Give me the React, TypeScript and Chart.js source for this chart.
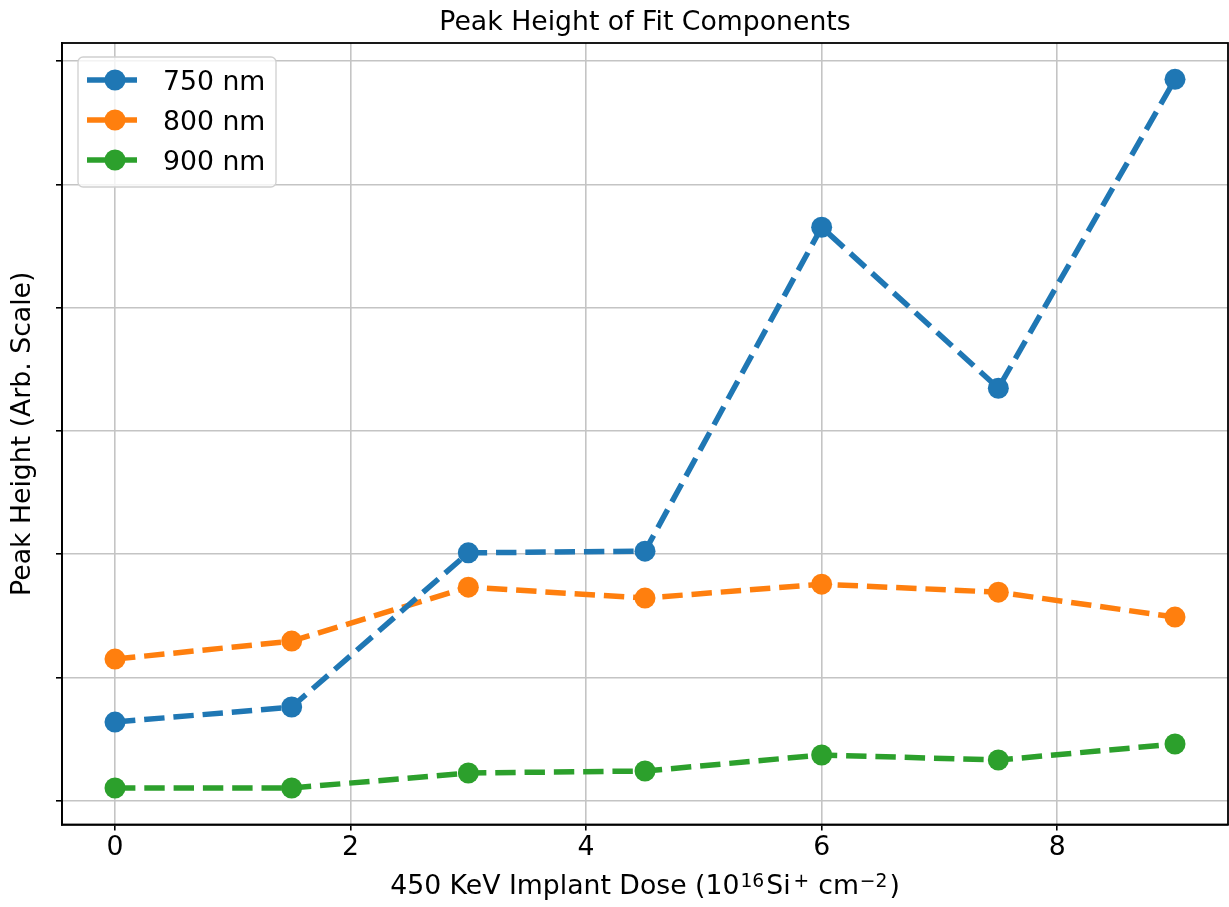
import React, { useEffect, useRef } from 'react';
import { Chart, registerables } from 'chart.js';

Chart.register(...registerables);

// ---- data (y in arbitrary units: one unit per unlabeled y tick) ----
const doses = [0, 1.5, 3, 4.5, 6, 7.5, 9];
const peak750 = [0.638, 0.76, 2.011, 2.025, 4.653, 3.347, 5.853];
const peak800 = [1.149, 1.295, 1.733, 1.644, 1.757, 1.692, 1.49];
const peak900 = [0.103, 0.103, 0.225, 0.241, 0.371, 0.33, 0.46];
const seriesLabels = ['750 nm', '800 nm', '900 nm'];
const seriesColors = ['#1f77b4', '#ff7f0e', '#2ca02c'];
const xTickValues = [0, 2, 4, 6, 8];
const yTickValues = [0, 1, 2, 3, 4, 5, 6];
const chartTitle = 'Peak Height of Fit Components';
const yAxisTitle = 'Peak Height (Arb. Scale)';
const xAxisTitleParts = [
  { text: '450 KeV Implant Dose (10', sup: false, gap: 1 },
  { text: '16', sup: true, gap: 2 },
  { text: 'Si', sup: false, gap: 3 },
  { text: '+', sup: true, gap: 9 },
  { text: 'cm', sup: false, gap: 1 },
  { text: '\u22122', sup: true, gap: 2 },
  { text: ')', sup: false, gap: 0 },
];

const FONT = "'DejaVu Sans'";
const FS = 26.7;
const SUP_FS = 18.7;

const overlayPlugin = {
  id: 'overlay',
  afterDraw(chart: any) {
    const { ctx, chartArea: a } = chart;
    ctx.save();
    // full frame (top / right spines)
    ctx.strokeStyle = '#000';
    ctx.lineWidth = 1.8;
    ctx.strokeRect(a.left, a.top, a.right - a.left, a.bottom - a.top);

    // title
    ctx.fillStyle = '#000';
    ctx.font = `${FS}px ${FONT}`;
    ctx.textAlign = 'center';
    ctx.textBaseline = 'alphabetic';
    ctx.fillText(chartTitle, (a.left + a.right) / 2, 30);

    // x axis title with superscripts
    const widths = xAxisTitleParts.map((p) => {
      ctx.font = `${p.sup ? SUP_FS : FS}px ${FONT}`;
      return ctx.measureText(p.text).width;
    });
    let total = 0;
    xAxisTitleParts.forEach((p, i) => {
      total += widths[i] + p.gap;
    });
    let x = (a.left + a.right) / 2 - total / 2;
    const base = 894;
    ctx.textAlign = 'left';
    xAxisTitleParts.forEach((p, i) => {
      ctx.font = `${p.sup ? SUP_FS : FS}px ${FONT}`;
      ctx.fillText(p.text, x, p.sup ? base - 7 : base);
      x += widths[i] + p.gap;
    });

    // legend
    const lx = 78, ly = 57, lw = 198, lh = 130, r = 5;
    ctx.beginPath();
    ctx.moveTo(lx + r, ly);
    ctx.lineTo(lx + lw - r, ly);
    ctx.arcTo(lx + lw, ly, lx + lw, ly + r, r);
    ctx.lineTo(lx + lw, ly + lh - r);
    ctx.arcTo(lx + lw, ly + lh, lx + lw - r, ly + lh, r);
    ctx.lineTo(lx + r, ly + lh);
    ctx.arcTo(lx, ly + lh, lx, ly + lh - r, r);
    ctx.lineTo(lx, ly + r);
    ctx.arcTo(lx, ly, lx + r, ly, r);
    ctx.closePath();
    ctx.fillStyle = 'rgba(255,255,255,0.8)';
    ctx.fill();
    ctx.strokeStyle = '#d0d0d0';
    ctx.lineWidth = 1.3;
    ctx.stroke();

    chart.data.datasets.forEach((ds: any, i: number) => {
      const cy = 80 + i * 40;
      ctx.strokeStyle = ds.borderColor;
      ctx.lineWidth = 5.5;
      ctx.setLineDash([]);
      ctx.beginPath();
      ctx.moveTo(87, cy);
      ctx.lineTo(137, cy);
      ctx.stroke();
      ctx.fillStyle = ds.borderColor;
      ctx.beginPath();
      ctx.arc(115, cy, 10.5, 0, Math.PI * 2);
      ctx.fill();
      ctx.fillStyle = '#000';
      ctx.font = `${FS}px ${FONT}`;
      ctx.textAlign = 'left';
      ctx.textBaseline = 'alphabetic';
      ctx.fillText(ds.label, 163, cy + 9.7);
    });
    ctx.restore();
  },
};

export default function App() {
  const canvasRef = useRef<HTMLCanvasElement | null>(null);

  useEffect(() => {
    if (!canvasRef.current) return;
    Chart.defaults.font.family = FONT;
    const series = [peak750, peak800, peak900];
    const chart = new Chart(canvasRef.current, {
      type: 'line',
      data: {
        datasets: series.map((vals, i) => ({
          label: seriesLabels[i],
          data: doses.map((d, j) => ({ x: d, y: vals[j] })),
          borderColor: seriesColors[i],
          backgroundColor: seriesColors[i],
          pointBackgroundColor: seriesColors[i],
          pointBorderWidth: 0,
          pointRadius: 10.5,
          borderWidth: 5.5,
          borderDash: [20.4, 8.9],
          borderCapStyle: 'butt',
          borderJoinStyle: 'round',
          tension: 0,
          fill: false,
        })),
      },
      options: {
        animation: false,
        responsive: false,
        devicePixelRatio: 1,
        events: [],
        layout: { autoPadding: false, padding: { top: 43, right: 1, left: 0, bottom: 0 } },
        plugins: {
          legend: { display: false },
          tooltip: { enabled: false },
          title: { display: false },
        },
        scales: {
          x: {
            type: 'linear',
            position: 'bottom',
            min: -0.45,
            max: 9.45,
            afterBuildTicks: (scale: any) => {
              scale.ticks = xTickValues.map((v) => ({ value: v }));
            },
            afterFit: (scale: any) => {
              scale.height = 82.5;
            },
            ticks: {
              includeBounds: false,
              color: '#000',
              font: { size: FS, family: FONT, lineHeight: 1.2 },
              padding: 1.5,
              maxRotation: 0,
              callback: (v: any) => String(v),
            },
            grid: {
              color: '#c4c4c4',
              lineWidth: 1.6,
              drawTicks: true,
              tickLength: 6,
              tickColor: '#000',
              tickWidth: 1.6,
            },
            border: { display: true, color: '#000', width: 1.8 },
          },
          y: {
            type: 'linear',
            min: -0.193,
            max: 6.148,
            afterBuildTicks: (scale: any) => {
              scale.ticks = yTickValues.map((v) => ({ value: v }));
            },
            afterFit: (scale: any) => {
              scale.width = 62;
            },
            ticks: {
              includeBounds: false,
              callback: () => '',
              padding: 0,
            },
            grid: {
              color: '#c4c4c4',
              lineWidth: 1.6,
              drawTicks: true,
              tickLength: 6,
              tickColor: '#000',
              tickWidth: 1.6,
            },
            border: { display: true, color: '#000', width: 1.8 },
            title: {
              display: true,
              text: yAxisTitle,
              color: '#000',
              font: { size: FS, family: FONT, lineHeight: 1.2 },
              padding: { top: 7.4, bottom: 0 },
            },
          },
        },
      },
      plugins: [overlayPlugin],
    } as any);
    return () => chart.destroy();
  }, []);

  return (
    <div style={{ position: 'absolute', left: 0, top: 0, width: 1229, height: 907, background: '#fff' }}>
      <canvas ref={canvasRef} width={1229} height={907} style={{ display: 'block' }} />
    </div>
  );
}
